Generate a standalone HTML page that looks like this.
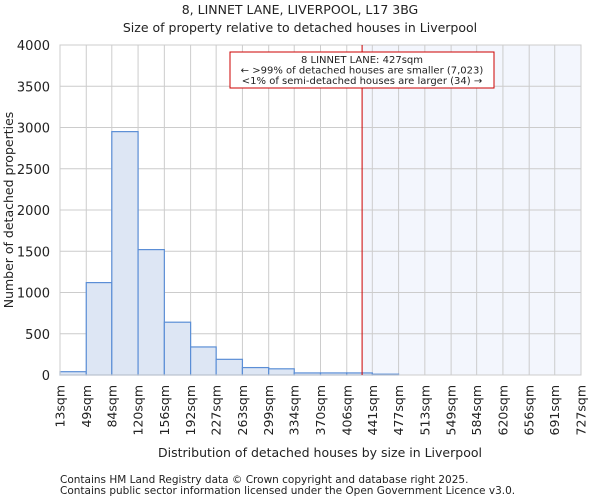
<!DOCTYPE html>
<html><head><meta charset="utf-8"><style>
body{margin:0;background:#fff;font-family:"DejaVu Sans","Liberation Sans",sans-serif;}
svg text{font-family:"DejaVu Sans","Liberation Sans",sans-serif;fill:#222;}
</style></head><body>
<svg id="chart" width="600" height="500" viewBox="0 0 600 500" xmlns="http://www.w3.org/2000/svg">
<text x="300" y="14" text-anchor="middle" font-size="12.5">8, LINNET LANE, LIVERPOOL, L17 3BG</text>
<text x="300" y="32" text-anchor="middle" font-size="12.5">Size of property relative to detached houses in Liverpool</text>
<g id="plot"></g>
<text x="320" y="457" text-anchor="middle" font-size="12.5">Distribution of detached houses by size in Liverpool</text>
<text transform="translate(13,210) rotate(-90)" text-anchor="middle" font-size="12.5">Number of detached properties</text>
<text x="60" y="483" font-size="10.5">Contains HM Land Registry data © Crown copyright and database right 2025.</text>
<text x="60" y="494" font-size="10.5">Contains public sector information licensed under the Open Government Licence v3.0.</text>
</svg>
<script>
const binLabels=["13sqm","49sqm","84sqm","120sqm","156sqm","192sqm","227sqm","263sqm","299sqm","334sqm","370sqm","406sqm","441sqm","477sqm","513sqm","549sqm","584sqm","620sqm","656sqm","691sqm","727sqm"];
const binEdges=[13,49,84,120,156,192,227,263,299,334,370,406,441,477,513,549,584,620,656,691,727];
const counts=[40,1120,2950,1520,640,340,190,90,75,25,25,25,10,0,0,0,0,0,0,0];
const yTicks=[0,500,1000,1500,2000,2500,3000,3500,4000];
const subjectSize=427;
const L=60,R=581,T=45,B=375,xMin=13,xMax=727,yMax=4000;
const NS="http://www.w3.org/2000/svg";
const g=document.getElementById('plot');
const xs=v=>L+(v-xMin)/(xMax-xMin)*(R-L);
const ys=v=>B-v/yMax*(B-T);
function mk(t,a){const e=document.createElementNS(NS,t);for(const k in a)e.setAttribute(k,a[k]);g.appendChild(e);return e;}
const sx=xs(subjectSize);
let sh=mk('rect',{x:sx,y:T,width:R-sx,height:B-T,fill:'#f3f6fd'});


yTicks.forEach(v=>{
 let l=mk('line',{x1:L,x2:R,y1:ys(v),y2:ys(v),stroke:'#cccccc'});
 
 
 let t=mk('text',{x:L-10,y:ys(v)+5,'text-anchor':'end','font-size':'13'});t.textContent=v;
 
 
});
binEdges.forEach((v,i)=>{
 let l=mk('line',{x1:xs(v),x2:xs(v),y1:T,y2:B,stroke:'#cccccc'});
 
 
 let t=mk('text',{transform:`translate(${xs(v)+4.5},${B+10}) rotate(-90)`,'text-anchor':'end','font-size':'12.5'});t.textContent=binLabels[i];
 
 
});
counts.forEach((c,i)=>{
 if(c<=0)return;
 const x0=xs(binEdges[i]),x1=xs(binEdges[i+1]);
 let r=mk('rect',{x:x0,y:ys(c),width:x1-x0,height:B-ys(c),fill:'#dde6f4',stroke:'#5b8ed6','stroke-width':1.2});
 
 
});
let fr=mk('rect',{x:L,y:T,width:R-L,height:B-T,fill:'none',stroke:'#cccccc'});


let ml=mk('line',{x1:sx,x2:sx,y1:T,y2:B,stroke:'#cc0000','stroke-width':1});


let box=mk('rect',{x:230,y:52,width:264,height:36,fill:'#fff',stroke:'#cc0000'});


["8 LINNET LANE: 427sqm","← >99% of detached houses are smaller (7,023)","<1% of semi-detached houses are larger (34) →"].forEach((s,i)=>{
 let t=mk('text',{x:362,y:63+i*10.5,'text-anchor':'middle','font-size':'10'});t.textContent=s;
 
 
});
</script>
</body></html>
